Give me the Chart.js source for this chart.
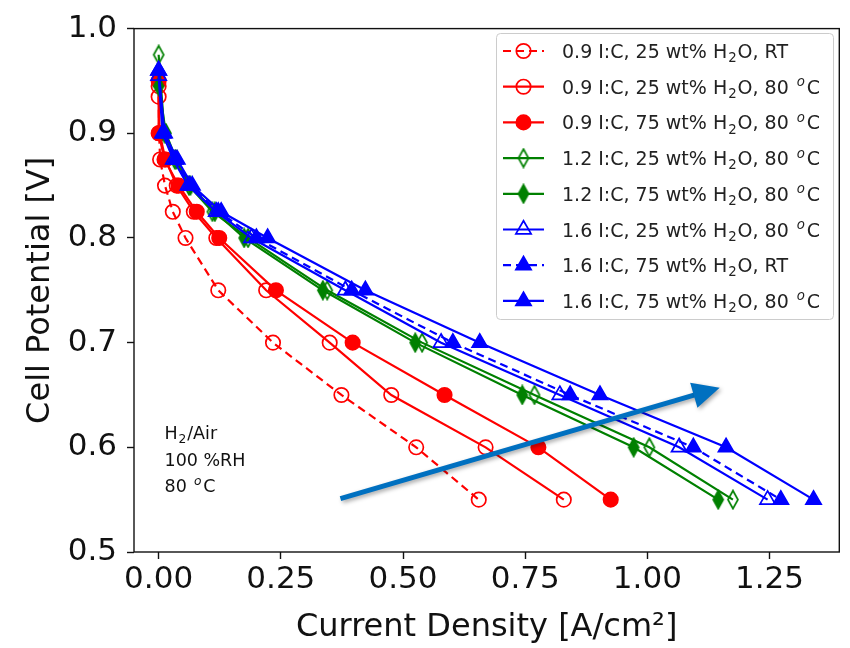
<!DOCTYPE html>
<html lang="en">
<head>
<meta charset="UTF-8">
<title>Polarization curves</title>
<script src="https://cdn.jsdelivr.net/npm/chart.js"></script>
<style>
  body { margin: 0; background: #fff; }
  canvas { display: block; }
</style>
</head>
<body>
<canvas id="polChart" width="850" height="648"></canvas>
<script>
// current density [A/cm2] and cell potential [V]
const cd_09_25_RT = [0.0, 0.001, 0.003, 0.013, 0.029, 0.055, 0.122, 0.234, 0.374, 0.527, 0.655];
const cp_09_25_RT = [0.935, 0.9, 0.875, 0.85, 0.825, 0.8, 0.75, 0.7, 0.65, 0.6, 0.55];

const cd_09_25_80 = [0.0, 0.002, 0.014, 0.037, 0.072, 0.118, 0.220, 0.350, 0.476, 0.669, 0.829];
const cp_09_25_80 = [0.945, 0.9, 0.875, 0.85, 0.825, 0.8, 0.75, 0.7, 0.65, 0.6, 0.55];

const cd_09_75_80 = [0.0, 0.0, 0.012, 0.041, 0.078, 0.124, 0.240, 0.397, 0.585, 0.777, 0.925];
const cp_09_75_80 = [0.95, 0.9, 0.875, 0.85, 0.825, 0.8, 0.75, 0.7, 0.65, 0.6, 0.55];

const cd_12_25_80 = [0.0, 0.012, 0.033, 0.062, 0.110, 0.183, 0.345, 0.539, 0.769, 1.004, 1.175];
const cp_12_25_80 = [0.975, 0.9, 0.875, 0.85, 0.825, 0.8, 0.75, 0.7, 0.65, 0.6, 0.55];

const cd_12_75_80 = [0.0, 0.015, 0.036, 0.065, 0.115, 0.175, 0.336, 0.525, 0.744, 0.972, 1.145];
const cp_12_75_80 = [0.945, 0.9, 0.875, 0.85, 0.825, 0.8, 0.75, 0.7, 0.65, 0.6, 0.55];

const cd_16_25_80 = [0.0, 0.008, 0.030, 0.060, 0.118, 0.190, 0.382, 0.578, 0.821, 1.065, 1.246];
const cp_16_25_80 = [0.955, 0.9, 0.875, 0.85, 0.825, 0.8, 0.75, 0.7, 0.65, 0.6, 0.55];

const cd_16_75_RT = [0.0, 0.010, 0.034, 0.064, 0.122, 0.200, 0.395, 0.602, 0.842, 1.094, 1.273];
const cp_16_75_RT = [0.96, 0.9, 0.875, 0.85, 0.825, 0.8, 0.75, 0.7, 0.65, 0.6, 0.55];

const cd_16_75_80 = [0.0, 0.012, 0.038, 0.069, 0.128, 0.223, 0.423, 0.657, 0.903, 1.161, 1.340];
const cp_16_75_80 = [0.96, 0.9, 0.875, 0.85, 0.825, 0.8, 0.75, 0.7, 0.65, 0.6, 0.55];

const seriesLabels = [
  '0.9 I:C, 25 wt% H_{2}O, RT',
  '0.9 I:C, 25 wt% H_{2}O, 80 ^{o}C',
  '0.9 I:C, 75 wt% H_{2}O, 80 ^{o}C',
  '1.2 I:C, 25 wt% H_{2}O, 80 ^{o}C',
  '1.2 I:C, 75 wt% H_{2}O, 80 ^{o}C',
  '1.6 I:C, 25 wt% H_{2}O, 80 ^{o}C',
  '1.6 I:C, 75 wt% H_{2}O, RT',
  '1.6 I:C, 75 wt% H_{2}O, 80 ^{o}C'
];

const xTicks = [0, 0.25, 0.5, 0.75, 1.0, 1.25];
const yTicks = [0.5, 0.6, 0.7, 0.8, 0.9, 1.0];

const noteLines = ['H_{2}/Air', '100 %RH', '80 ^{o}C'];
const arrowFrom = [0.372, 0.551];
const arrowTo = [1.148, 0.657];

const FONT = '"DejaVu Sans", sans-serif';

// matplotlib style thin diamond ('d') as a canvas point style
function thinDiamond(color, filled) {
  const c = document.createElement('canvas');
  c.width = 14; c.height = 21;
  const g = c.getContext('2d');
  g.beginPath();
  g.moveTo(7, 1.5); g.lineTo(12, 10.5); g.lineTo(7, 19.5); g.lineTo(2, 10.5);
  g.closePath();
  g.lineWidth = 1.7;
  g.strokeStyle = color;
  if (filled) { g.fillStyle = color; g.fill(); }
  g.stroke();
  return c;
}

function pts(xs, ys) {
  return xs.map((x, k) => ({ x: x, y: ys[k] }));
}

const NONE = 'rgba(0,0,0,0)';
const styles = [
  { c: 'red',   dash: [8, 5], ps: 'circle',   r: 7.2, fill: false },
  { c: 'red',   dash: [],     ps: 'circle',   r: 7.2, fill: false },
  { c: 'red',   dash: [],     ps: 'circle',   r: 7.2, fill: true },
  { c: 'green', dash: [],     ps: thinDiamond('green', false), r: 9, fill: false },
  { c: 'green', dash: [],     ps: thinDiamond('green', true),  r: 9, fill: true },
  { c: 'blue',  dash: [],     ps: 'triangle', r: 8.8, fill: false },
  { c: 'blue',  dash: [8, 5], ps: 'triangle', r: 8.8, fill: true },
  { c: 'blue',  dash: [],     ps: 'triangle', r: 8.8, fill: true }
];
const seriesData = [
  pts(cd_09_25_RT, cp_09_25_RT),
  pts(cd_09_25_80, cp_09_25_80),
  pts(cd_09_75_80, cp_09_75_80),
  pts(cd_12_25_80, cp_12_25_80),
  pts(cd_12_75_80, cp_12_75_80),
  pts(cd_16_25_80, cp_16_25_80),
  pts(cd_16_75_RT, cp_16_75_RT),
  pts(cd_16_75_80, cp_16_75_80)
];

const datasets = seriesData.map((d, i) => ({
  label: seriesLabels[i],
  data: d,
  borderColor: styles[i].c,
  borderWidth: 2.2,
  borderDash: styles[i].dash,
  pointStyle: styles[i].ps,
  pointRadius: styles[i].r,
  pointBorderWidth: 1.7,
  pointBorderColor: styles[i].c,
  pointBackgroundColor: styles[i].fill ? styles[i].c : NONE,
  tension: 0,
  fill: false,
  order: 7 - i
}));

// text with _{sub} and ^{sup} parts
function richText(ctx, str, x, y, size) {
  const parts = str.split(/(_\{[^}]*\}|\^\{[^}]*\})/);
  let cx = x;
  for (const p of parts) {
    if (!p) continue;
    let txt = p, fs = size, dy = 0, style = '', pad = 0;
    if (p[0] === '_') { txt = p.slice(2, -1); fs = size * 0.7; dy = size * 0.22; pad = size * 0.05; }
    else if (p[0] === '^') { txt = p.slice(2, -1); fs = size * 0.7; dy = -size * 0.4; style = 'italic '; pad = size * 0.1; }
    ctx.font = style + fs + 'px ' + FONT;
    cx += pad;
    ctx.fillText(txt, cx, y + dy);
    cx += ctx.measureText(txt).width + pad;
  }
}

const extras = {
  id: 'extras',
  afterDraw(chart) {
    const ctx = chart.ctx;
    const a = chart.chartArea;
    const xs = chart.scales.x, ys = chart.scales.y;
    ctx.save();

    // frame
    ctx.strokeStyle = '#111';
    ctx.lineWidth = 1.4;
    ctx.strokeRect(a.left, a.top, a.right - a.left, a.bottom - a.top);

    // conditions note
    ctx.fillStyle = '#111';
    ctx.textBaseline = 'alphabetic';
    const nx = xs.getPixelForValue(0.012);
    noteLines.forEach((t, k) => richText(ctx, t, nx, 439 + k * 26.5, 17.5));

    // trend arrow
    const x0 = xs.getPixelForValue(arrowFrom[0]), y0 = ys.getPixelForValue(arrowFrom[1]);
    const x1 = xs.getPixelForValue(arrowTo[0]), y1 = ys.getPixelForValue(arrowTo[1]);
    const ang = Math.atan2(y1 - y0, x1 - x0);
    const hl = 27, hw = 13;
    const bx = x1 - hl * Math.cos(ang), by = y1 - hl * Math.sin(ang);
    ctx.shadowColor = 'rgba(0,0,0,0.35)';
    ctx.shadowBlur = 4;
    ctx.shadowOffsetX = 2;
    ctx.shadowOffsetY = 2;
    ctx.strokeStyle = '#0070c0';
    ctx.fillStyle = '#0070c0';
    ctx.lineWidth = 5;
    ctx.beginPath();
    ctx.moveTo(x0, y0);
    ctx.lineTo(bx + 2 * Math.cos(ang), by + 2 * Math.sin(ang));
    ctx.stroke();
    ctx.beginPath();
    ctx.moveTo(x1, y1);
    ctx.lineTo(bx + hw * Math.sin(ang), by - hw * Math.cos(ang));
    ctx.lineTo(bx - hw * Math.sin(ang), by + hw * Math.cos(ang));
    ctx.closePath();
    ctx.fill();
    ctx.shadowColor = 'rgba(0,0,0,0)';

    // legend
    const lx = 496.5, ly = 33.5, lw = 337, lh = 286, rr = 4;
    ctx.beginPath();
    ctx.moveTo(lx + rr, ly);
    ctx.arcTo(lx + lw, ly, lx + lw, ly + lh, rr);
    ctx.arcTo(lx + lw, ly + lh, lx, ly + lh, rr);
    ctx.arcTo(lx, ly + lh, lx, ly, rr);
    ctx.arcTo(lx, ly, lx + lw, ly, rr);
    ctx.closePath();
    ctx.fillStyle = 'rgba(255,255,255,0.8)';
    ctx.fill();
    ctx.strokeStyle = '#cccccc';
    ctx.lineWidth = 1;
    ctx.stroke();

    datasets.forEach((ds, i) => {
      const ry = 51 + i * 35.7;
      ctx.strokeStyle = ds.borderColor;
      ctx.lineWidth = ds.borderWidth;
      ctx.setLineDash(ds.borderDash);
      ctx.beginPath();
      ctx.moveTo(503, ry);
      ctx.lineTo(544, ry);
      ctx.stroke();
      ctx.setLineDash([]);
      ctx.fillStyle = ds.pointBackgroundColor;
      ctx.strokeStyle = ds.pointBorderColor;
      ctx.lineWidth = ds.pointBorderWidth;
      Chart.helpers.drawPoint(ctx, {
        pointStyle: ds.pointStyle, radius: ds.pointRadius, rotation: 0, borderWidth: ds.pointBorderWidth
      }, 523.5, ry);
      ctx.fillStyle = '#222';
      richText(ctx, ds.label, 562, ry + 7, 19);
    });
    ctx.restore();
  }
};

new Chart(document.getElementById('polChart').getContext('2d'), {
  type: 'line',
  data: { datasets: datasets },
  options: {
    responsive: false,
    maintainAspectRatio: false,
    animation: false,
    events: [],
    layout: { padding: { top: 22, right: 6, left: 0, bottom: 0 } },
    plugins: { legend: { display: false }, tooltip: { enabled: false } },
    scales: {
      x: {
        type: 'linear',
        min: -0.0504,
        max: 1.3927,
        afterBuildTicks: s => { s.ticks = xTicks.map(v => ({ value: v })); },
        afterFit: s => { s.height = 96; },
        border: { display: false },
        grid: { drawOnChartArea: false, drawTicks: true, tickLength: 7, tickColor: '#111', tickWidth: 1.4 },
        ticks: {
          padding: 2,
          color: '#111',
          font: { family: FONT, size: 31 },
          callback: v => v.toFixed(2)
        },
        title: {
          display: true,
          text: 'Current Density [A/cm²]',
          color: '#111',
          font: { family: FONT, size: 32 },
          padding: { top: 0, bottom: 1 }
        }
      },
      y: {
        min: 0.5,
        max: 1.0,
        afterBuildTicks: s => { s.ticks = yTicks.map(v => ({ value: v })); },
        afterFit: s => { s.width = 134; },
        border: { display: false },
        grid: { drawOnChartArea: false, drawTicks: true, tickLength: 7, tickColor: '#111', tickWidth: 1.4 },
        ticks: {
          padding: 10,
          color: '#111',
          font: { family: FONT, size: 31 },
          callback: v => v.toFixed(1)
        },
        title: {
          display: true,
          text: 'Cell Potential [V]',
          color: '#111',
          font: { family: FONT, size: 32 },
          padding: { top: 21, bottom: 0 }
        }
      }
    }
  },
  plugins: [extras]
});
</script>
</body>
</html>
